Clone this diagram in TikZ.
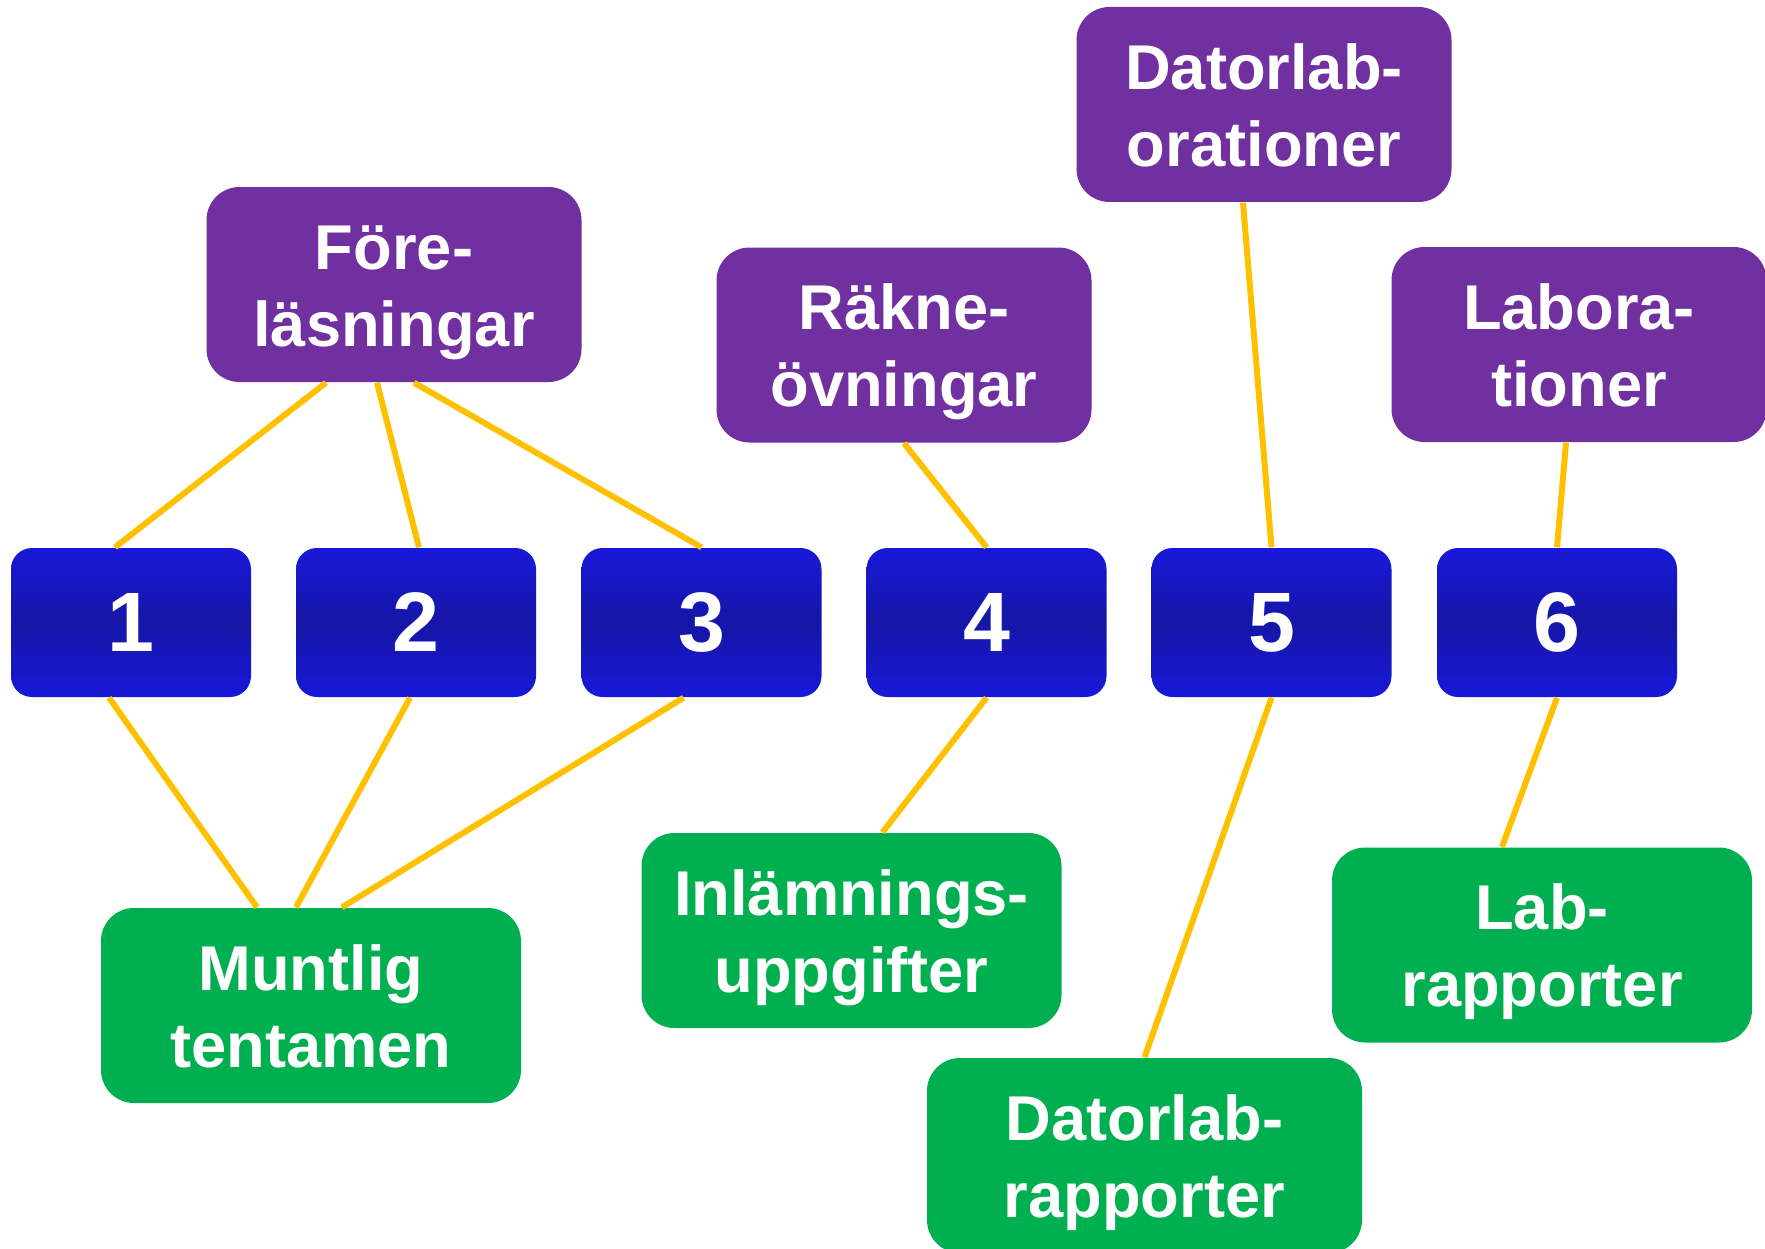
\documentclass[tikz,border=0pt]{standalone}
\usepackage{fontspec}
\setmainfont{Liberation Sans}
\usetikzlibrary{calc}

\definecolor{lila}{HTML}{7030A0}
\definecolor{gron}{HTML}{00B050}
\definecolor{gul}{HTML}{FFC000}
\definecolor{blaljus}{RGB}{24,24,218}
\definecolor{blamork}{RGB}{22,22,166}

% Strut so that every two-line box sits the same way
\newcommand{\rad}{\rule[-3.6pt]{0pt}{20.6pt}}

\begin{document}
\begin{tikzpicture}[x = 0.1mm, y = -0.1mm,
	moment/.style = {rounded corners = 3.3mm, fill = lila, text = white, align = center, inner sep = 0,
		minimum width = 37.5mm, minimum height = 19.5mm, font = \bfseries\fontsize{18}{22}\selectfont},
	examination/.style = {moment, fill = gron, minimum width = 42mm},
	vecka/.style = {rounded corners = 2.1mm, top color = blaljus, bottom color = blaljus, middle color = blamork,
		text = white, inner sep = 0, minimum width = 24mm, minimum height = 14.9mm, font = \bfseries\fontsize{24}{28}\selectfont},
	koppling/.style = {gul, line width = 0.6mm}]

	% Picture size
	
	\useasboundingbox (0, 0) rectangle (1765, 1249);
	
	% Teaching (top row)
	
	\node [moment] (fore) at (394, 284.5) {\rad Före-\\läsningar\rad};
	\node [moment] (rakne) at (904, 345) {\rad Räkne-\\övningar\rad};
	\node [moment] (datorlab) at (1264, 104.5) {\rad Datorlab-\\orationer\rad};
	\node [moment] (labora) at (1579, 344.5) {\rad Labora-\\tioner\rad};
	
	% Weeks (middle row)
	
	\foreach \n/\x in {1/131, 2/416, 3/701.5, 4/986.5, 5/1271.5, 6/1557}
		\node [vecka] (b\n) at (\x, 622.5) {\n};
	
	% Examination (bottom row)
	
	\node [examination] (muntlig) at (311, 1005.5) {\rad Muntlig\\tentamen\rad};
	\node [examination] (inlamning) at (851.5, 930.5) {\rad Inlämnings-\\uppgifter\rad};
	\node [examination, minimum width = 43.5mm] (datorrapp) at (1144.5, 1155.5) {\rad Datorlab-\\rapporter\rad};
	\node [examination] (labrapp) at (1542, 945) {\rad Lab-\\rapporter\rad};
	
	% Connections from teaching to weeks
	
	\draw [koppling] ($(fore.south) + (-68, 0)$) -- ($(b1.north) + (-16, 0)$);
	\draw [koppling] ($(fore.south) + (-17, 0)$) -- ($(b2.north) + (3, 0)$);
	\draw [koppling] ($(fore.south) + (20, 0)$) -- (b3.north);
	\draw [koppling] (rakne.south) -- (b4.north);
	\draw [koppling] ($(datorlab.south) + (-21, 0)$) -- (b5.north);
	\draw [koppling] ($(labora.south) + (-13, 0)$) -- (b6.north);
	
	% Connections from weeks to examination
	
	\draw [koppling] ($(b1.south) + (-22, 0)$) -- ($(muntlig.north) + (-54, 0)$);
	\draw [koppling] ($(b2.south) + (-6, 0)$) -- ($(muntlig.north) + (-15, 0)$);
	\draw [koppling] ($(b3.south) + (-18, 0)$) -- ($(muntlig.north) + (31, 0)$);
	\draw [koppling] (b4.south) -- ($(inlamning.north) + (31, 0)$);
	\draw [koppling] (b5.south) -- (datorrapp.north);
	\draw [koppling] (b6.south) -- ($(labrapp.north) + (-40, 0)$);

\end{tikzpicture}
\end{document}
